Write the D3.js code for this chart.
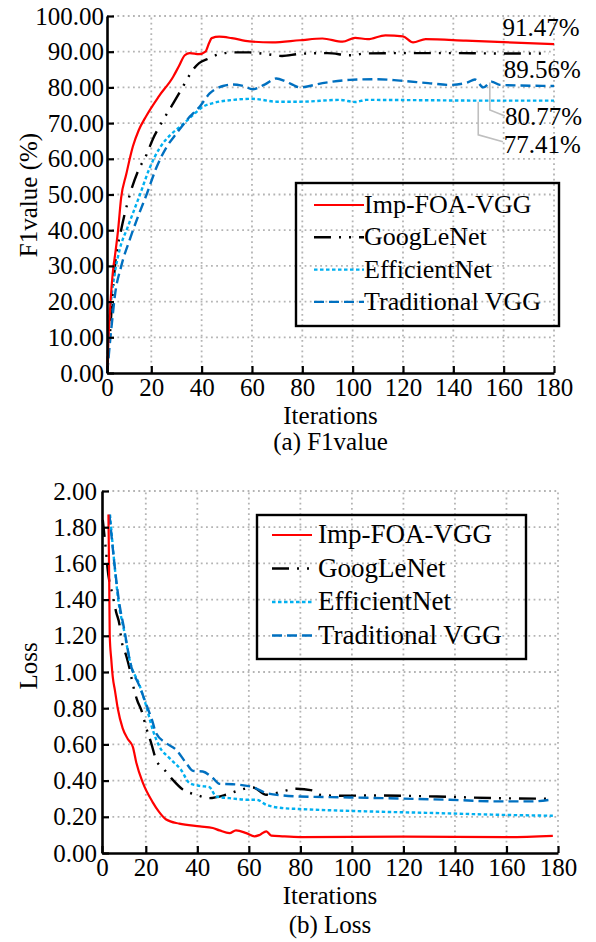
<!DOCTYPE html>
<html>
<head>
<meta charset="utf-8">
<script src="https://cdn.jsdelivr.net/npm/d3@7/dist/d3.min.js"></script>
<style>
body{margin:0;background:#fff;}
text{font-family:"Liberation Serif","Times New Roman",serif;fill:#000;}
</style>
</head>
<body>
<div id="chart-area"></div>
<script>
// series names + looks
var names=["Imp-FOA-VGG","GoogLeNet","EfficientNet","Traditional VGG"];
var colors=["#ff0000","#000000","#00b0f0","#0070c0"];
var dashes=[null,"17,8,2,8,2,8","3.5,2.5","10,5"];

// tick labels
var iterTicks=[0,20,40,60,80,100,120,140,160,180];
var f1Ticks=[0,10,20,30,40,50,60,70,80,90,100];
var lossTicks=[0,0.2,0.4,0.6,0.8,1.0,1.2,1.4,1.6,1.8,2.0];

// (a) F1value, [iteration, %]
var f1Imp=[[2.5,1],[3,10],[4,22],[5,30],[5.4,32],[6.8,40],[8,49],[10,55.5],[12.7,63.5],[15,68],[18,72],[23,77.5],[28.7,83],[31,86],[33.3,89],[35.3,89.6],[39,89.3],[41.5,90],[43,92.5],[44,93.8],[47,94.2],[52,93.8],[59,92.9],[68,92.6],[79,93.2],[88,93.7],[96,92.8],[101,93.9],[106,93.5],[113,94.6],[120,94.3],[124,92.6],[129,93.5],[145,93.1],[180,92.1]];
var f1Goog=[[2.5,2],[3.5,10],[4.5,21],[5.7,31],[8,40],[10.5,47.5],[15,57],[18,61],[20.6,65.5],[24,70],[28.7,75.5],[32,79.5],[34,82],[36,84.4],[39,86.8],[42.5,88],[47,89.3],[52.5,89.8],[59,89.8],[66,89.3],[72,88.8],[79,89.4],[90,89.6],[99,89],[105,89.5],[120,89.6],[140,89.6],[160,89.5],[178,89.5]];
var f1Eff=[[2.5,2],[3,11],[4,20],[5.5,28],[7.4,34.5],[10.7,41],[15.4,49.8],[19.4,57.5],[23.3,63],[27.3,66.5],[32,69.3],[36.6,72.3],[40.6,74.6],[44.5,75.6],[52.5,76.5],[60,76.8],[70,76],[79,76],[95,76.5],[101,75.9],[105.5,76.5],[130,76.4],[150,76.3],[180,76.3]];
var f1Trad=[[2.5,0],[3.5,8],[4.5,15],[5.5,21.5],[8,29.8],[11.4,37.3],[14.7,43.8],[18.4,50.5],[22,57.5],[26,63.2],[30,67.1],[35.3,71.8],[39.2,74.6],[43.2,78.3],[48.5,80.4],[52.5,80.8],[56,80.5],[60.4,79.5],[65,80.8],[69.7,82.5],[73,81.8],[76.3,80.7],[79,80],[88,81.2],[98.9,82.1],[110,82.3],[118.8,81.9],[130,81.2],[138.6,80.7],[145.3,81.3],[148.6,82.2],[151.9,80],[155.2,81.6],[158.5,80.7],[180,80.4]];

// (b) Loss
var lossImp=[[5.5,1.87],[5.8,1.5],[6,1.2],[6.6,1.07],[7.2,0.97],[8,0.9],[9.1,0.8],[11,0.69],[13,0.63],[15,0.585],[16.3,0.5],[18.8,0.39],[22.7,0.28],[25,0.23],[27.9,0.185],[33,0.162],[41,0.147],[46,0.138],[48.6,0.125],[52.5,0.11],[55,0.125],[59,0.11],[62.2,0.092],[64.2,0.1],[66.8,0.12],[68.7,0.096],[73,0.092],[80,0.088],[120,0.09],[160,0.088],[178,0.095]];
var lossGoog=[[3.3,1.84],[4.6,1.66],[5.1,1.58],[7.2,1.42],[8.5,1.33],[9.8,1.26],[10.4,1.19],[12.4,1.09],[13.7,1.02],[15,0.93],[16.5,0.85],[18.5,0.78],[20.2,0.69],[22.1,0.607],[24,0.515],[27.3,0.459],[30.5,0.404],[34.4,0.35],[39.6,0.322],[44.7,0.303],[51.2,0.322],[56,0.345],[61.5,0.362],[66.8,0.322],[73,0.34],[78.4,0.355],[84.9,0.345],[87.5,0.322],[95,0.316],[110,0.318],[133,0.312],[156,0.303],[176,0.3]];
var lossEff=[[6.1,1.87],[7.8,1.6],[9.3,1.4],[11.7,1.22],[14,1.05],[17.5,0.93],[20.2,0.81],[22.7,0.68],[25.3,0.588],[29.2,0.524],[33.7,0.459],[37,0.386],[40.9,0.371],[44.7,0.364],[47.3,0.312],[52.5,0.303],[60.3,0.294],[63,0.294],[66.8,0.266],[73.2,0.248],[79.7,0.243],[105.6,0.23],[131.5,0.221],[157.4,0.211],[178,0.206]];
var lossTrad=[[5.9,1.87],[7.8,1.6],[9.5,1.4],[11.7,1.23],[14,1.05],[17.6,0.92],[21,0.79],[22.4,0.735],[24,0.662],[27.9,0.607],[31.8,0.57],[35.7,0.496],[38.3,0.454],[42.1,0.45],[46,0.414],[48.6,0.382],[53.6,0.38],[61.5,0.364],[66.8,0.331],[73.2,0.318],[79.7,0.312],[99,0.307],[118.5,0.301],[138,0.294],[157.4,0.285],[170,0.285],[176.8,0.294]];

// end labels on (a)
var endLabels=["91.47%","89.56%","80.77%","77.41%"];

var svg=d3.select("#chart-area").append("svg")
    .attr("width",596)
    .attr("height",942);

function panel(p){
    var g=svg.append("g");
    var x=d3.scaleLinear().domain(p.xDom).range(p.xRange).clamp(true);
    var y=d3.scaleLinear().domain(p.yDom).range(p.yRange);

    // dotted grid
    g.selectAll(".hgrid").data(p.yTicks.slice(1)).enter()
        .append("line")
        .attr("x1",p.xRange[0]).attr("x2",p.xRange[1])
        .attr("y1",d=>y(d)).attr("y2",d=>y(d))
        .attr("stroke","#b4b4b4").attr("stroke-width",1.8)
        .attr("stroke-dasharray","1.8,3.4");
    g.selectAll(".vgrid").data(iterTicks.slice(1)).enter()
        .append("line")
        .attr("x1",d=>x(d)).attr("x2",d=>x(d))
        .attr("y1",p.yRange[0]).attr("y2",p.yRange[1])
        .attr("stroke","#b4b4b4").attr("stroke-width",1.8)
        .attr("stroke-dasharray","1.8,3.4");

    var line=d3.line()
        .x(d=>x(d[0]))
        .y(d=>y(d[1]))
        .curve(d3.curveMonotoneX);

    // draw red last so it sits on top
    [1,2,3,0].forEach(i=>{
        g.append("path")
            .attr("d",line(p.series[i]))
            .attr("fill","none")
            .attr("stroke",colors[i])
            .attr("stroke-width",i==0?2.2:2.4)
            .attr("stroke-dasharray",dashes[i]);
    });

    var bottomAxis=d3.axisBottom(x)
        .tickValues(iterTicks)
        .tickSizeInner(-7)
        .tickSizeOuter(0)
        .tickPadding(5);
    var ax=g.append("g")
        .attr("transform","translate(0,"+p.yRange[0]+")")
        .call(bottomAxis);

    var leftAxis=d3.axisLeft(y)
        .tickValues(p.yTicks)
        .tickSizeInner(-7)
        .tickSizeOuter(0)
        .tickPadding(p.yPad)
        .tickFormat(d3.format(".2f"));
    var ay=g.append("g")
        .attr("transform","translate("+p.xRange[0]+",0)")
        .call(leftAxis);

    [ax,ay].forEach(a=>{
        a.select(".domain").attr("stroke","#000").attr("stroke-width",2.6);
        a.selectAll(".tick line").attr("stroke","#000").attr("stroke-width",2.2);
        a.selectAll("text")
            .attr("font-size","25px")
            .attr("fill","#000");
    });

    g.append("text")
        .attr("x",(p.xRange[0]+p.xRange[1])/2)
        .attr("y",p.iterY)
        .attr("font-size","25px")
        .attr("text-anchor","middle")
        .text("Iterations");
    g.append("text")
        .attr("x",(p.xRange[0]+p.xRange[1])/2)
        .attr("y",p.capY)
        .attr("font-size","25px")
        .attr("text-anchor","middle")
        .text(p.caption);
    g.append("text")
        .attr("transform","rotate(-90)")
        .attr("x",-p.yLabelC)
        .attr("y",37)
        .attr("font-size","25px")
        .attr("text-anchor","middle")
        .text(p.yLabel);

    // legend
    var L=p.legend;
    g.append("rect")
        .attr("x",L.x).attr("y",L.y)
        .attr("width",L.w).attr("height",L.h)
        .attr("fill","none")
        .attr("stroke","#000")
        .attr("stroke-width",2.4);
    names.forEach((n,i)=>{
        var by=L.base+i*L.step;
        g.append("line")
            .attr("x1",L.l1).attr("x2",L.l2)
            .attr("y1",by-8).attr("y2",by-8)
            .attr("stroke",colors[i])
            .attr("stroke-width",i==0?2.2:2.4)
            .attr("stroke-dasharray",dashes[i]);
        g.append("text")
            .attr("x",L.tx).attr("y",by)
            .attr("font-size",L.fs+"px")
            .text(n);
    });
    return {g:g,x:x,y:y};
}

var panelA=panel({
    xDom:[2.4,180],xRange:[107,554],
    yDom:[0,100],yRange:[373,16],
    yTicks:f1Ticks,yPad:3,
    series:[f1Imp,f1Goog,f1Eff,f1Trad],
    iterY:424,capY:450,caption:"(a) F1value",
    yLabel:"F1value (%)",yLabelC:195,
    legend:{x:296,y:183,w:263,h:143,l1:314,l2:364,tx:364,base:213,step:32.3,fs:26}
});

var panelB=panel({
    xDom:[3.0,180],xRange:[102,558],
    yDom:[0,2],yRange:[853,491],
    yTicks:lossTicks,yPad:5,
    series:[lossImp,lossGoog,lossEff,lossTrad],
    iterY:904,capY:933,caption:"(b) Loss",
    yLabel:"Loss",yLabelC:666,
    legend:{x:257,y:515,w:269,h:144,l1:272,l2:312,tx:318,base:543,step:33.5,fs:27}
});

// final value callouts on (a)
var ax_=panelA.x, ay_=panelA.y;
var labelPos=[[159.5,94.3],[160,82.6],[160.5,69.5],[160,61.5]];
endLabels.forEach((t,i)=>{
    panelA.g.append("text")
        .attr("x",ax_(labelPos[i][0]))
        .attr("y",ay_(labelPos[i][1]))
        .attr("font-size","25px")
        .text(t);
});
var leaders=[
    [[154.5,81.4],[154.5,73.7],[160.5,72]],
    [[149.9,76],[149.9,66.7],[159.7,64.8]]
];
leaders.forEach(pts=>{
    panelA.g.append("path")
        .attr("d",d3.line().x(d=>ax_(d[0])).y(d=>ay_(d[1]))(pts))
        .attr("fill","none")
        .attr("stroke","#bfbfbf")
        .attr("stroke-width",1.6);
});
</script>
</body>
</html>
